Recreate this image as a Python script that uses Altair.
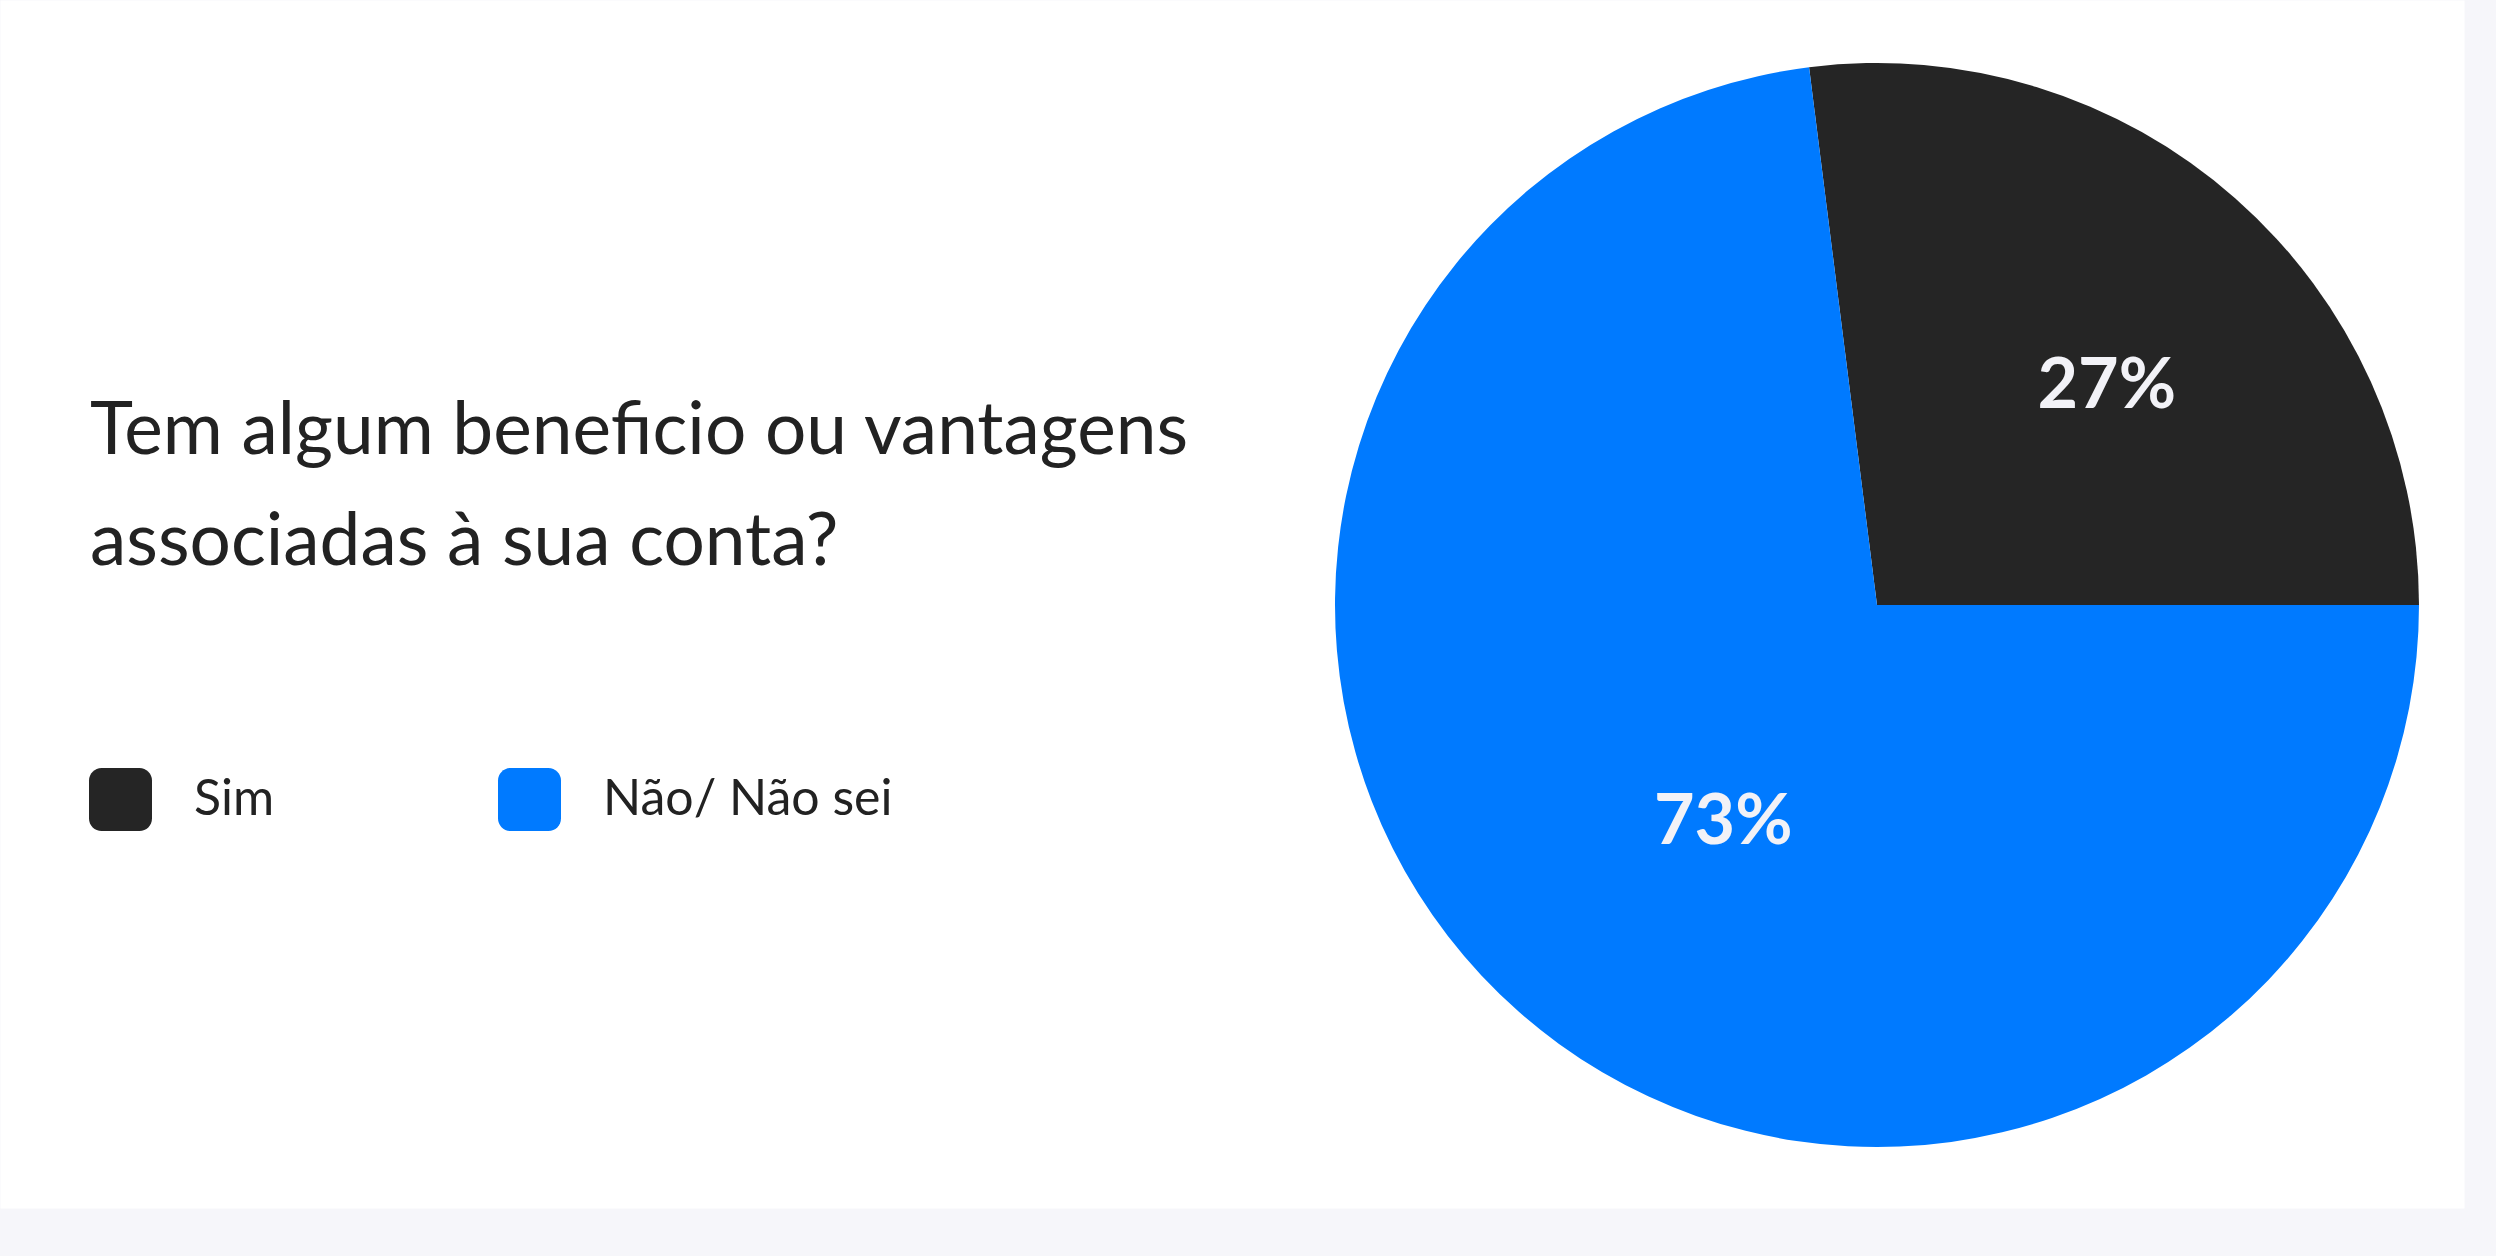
import math
import altair as alt
import pandas as pd

# ---- data ----
categories = ["Sim", "Não/ Não sei"]
values = [27, 73]
labels = ["27%", "73%"]
colors = ["#252525", "#007AFF"]
title_lines = ["Tem algum beneficio ou vantagens", "associadas à sua conta?"]

df = pd.DataFrame({
    "resposta": categories,
    "valor": values,
    "rotulo": labels,
    "ordem": list(range(len(categories))),
})

# first slice ends at 3 o'clock
total = sum(values)
start = math.pi / 2 - 2 * math.pi * values[0] / total

CX, CY, R = 1877, 605, 542

rounded = ("M -0.6,-1 L 0.6,-1 A 0.4,0.4 0 0 1 1,-0.6 L 1,0.6 "
           "A 0.4,0.4 0 0 1 0.6,1 L -0.6,1 A 0.4,0.4 0 0 1 -1,0.6 "
           "L -1,-0.6 A 0.4,0.4 0 0 1 -0.6,-1 Z")

theta = alt.Theta("valor:Q", stack=True,
                  scale=alt.Scale(range=[start, start + 2 * math.pi]))
order = alt.Order("ordem:Q")

arc = alt.Chart(df).mark_arc(outerRadius=R, stroke="transparent").encode(
    theta=theta,
    order=order,
    x=alt.value(CX),
    y=alt.value(CY),
    color=alt.Color(
        "resposta:N",
        sort=categories,
        scale=alt.Scale(domain=categories, range=colors),
        legend=alt.Legend(
            orient="none",
            legendX=89,
            legendY=768,
            direction="horizontal",
            title=None,
            symbolType=rounded,
            symbolSize=3969,
            symbolStrokeWidth=0,
            labelFont="Lato",
            labelFontSize=50,
            labelColor="#222222",
            labelOffset=42,
            labelLimit=800,
            columnPadding=222,
        ),
    ),
)

text = alt.Chart(df).mark_text(
    radius=290, dx=38, font="Lato", fontWeight="bold", fontSize=70,
    color="#F2F2F7", align="center", baseline="middle",
).encode(
    theta=theta,
    order=order,
    x=alt.value(CX),
    y=alt.value(CY),
    text="rotulo:N",
)

chart = alt.layer(arc, text).properties(
    width=2464,
    height=1208,
    autosize="none",
    padding={"left": 0, "top": 0, "right": 32, "bottom": 48},
    background="#f6f6fa",
    title=alt.Title(
        text=title_lines,
        anchor="start",
        frame="group",
        orient="top",
        font="Lato",
        fontSize=73,
        fontWeight="normal",
        lineHeight=111,
        color="#222222",
        baseline="alphabetic",
        dx=90,
        dy=642,
    ),
).configure_view(fill="white", strokeOpacity=0)

chart.save("out.html", embed_options={"renderer": "svg", "actions": False})
